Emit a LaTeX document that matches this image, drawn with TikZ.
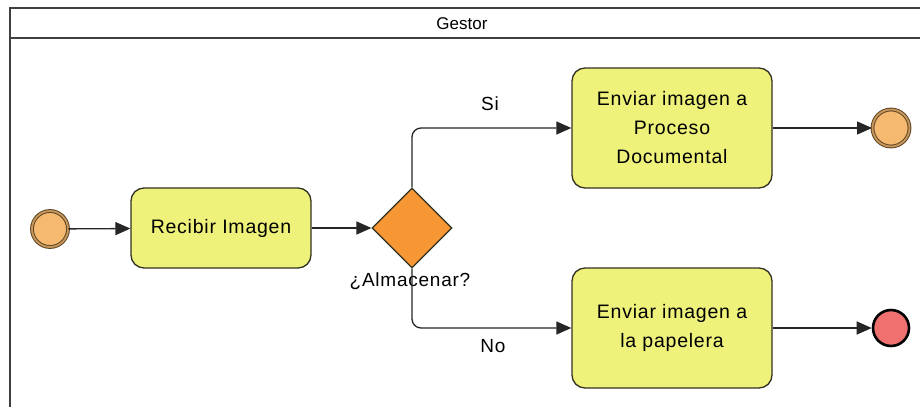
\documentclass[tikz,border=0pt]{standalone}
\usepackage{fontspec}
\setmainfont{Liberation Sans}
\newfontfamily\lblfont[LetterSpace=4]{Liberation Sans}
\usetikzlibrary{arrows.meta,shapes.geometric}
\definecolor{taskfill}{RGB}{238,242,122}
\definecolor{taskline}{RGB}{50,50,35}
\definecolor{gwfill}{RGB}{247,150,52}
\definecolor{evfill}{RGB}{245,186,112}
\definecolor{evline}{RGB}{95,70,40}
\definecolor{redfill}{RGB}{240,112,112}
\definecolor{poolline}{RGB}{64,64,64}
\begin{document}
\begin{tikzpicture}[x=1pt,y=-1pt,
  task/.style={draw=taskline,line width=1.3pt,fill=taskfill,rounded corners=13pt,
    align=center,font=\lblfont\fontsize{19.5}{29}\selectfont,inner sep=0pt},
  gateway/.style={diamond,draw=taskline,line width=1.2pt,fill=gwfill,
    minimum width=80pt,minimum height=80pt,inner sep=0pt},
  dblevent/.style={circle,draw=evline,line width=1pt,double=evfill!70!evline,
    double distance=1.8pt,fill=evfill,inner sep=0pt},
  endevent/.style={circle,draw=black,line width=2.6pt,fill=redfill,inner sep=0pt,
    minimum size=36pt},
  flow/.style={line width=1.3pt,draw=black!85,
    -{Triangle[length=15pt,width=13pt]}},
  lbl/.style={font=\lblfont\fontsize{19}{22}\selectfont,inner sep=0pt},
  pool/.style={draw=poolline,line width=1.8pt}
]
\useasboundingbox (0,0) rectangle (920,407);
\fill[white] (0,0) rectangle (920,407);
% pool
\draw[pool] (10,407) -- (10,8) -- (920,8);
\draw[pool] (10,38) -- (920,38);
\node[font=\fontsize{17}{18}\selectfont,inner sep=0pt] (pool) at (462,24) {Gestor};
% nodes
\node[dblevent,minimum size=36pt] (start) at (50,229) {};
\node[task,minimum width=180pt,minimum height=80pt] (recv) at (221,228) {Recibir Imagen};
\node[gateway] (gw) at (412,228) {};
\node[lbl] (gwl) at (410,281) {¿Almacenar?};
\node[task,minimum width=200pt,minimum height=120pt] (b1) at (672,128)
  {Enviar imagen a\\Proceso\\Documental};
\node[task,minimum width=200pt,minimum height=120pt] (b2) at (672,328)
  {Enviar imagen a\\la papelera};
\node[dblevent,minimum size=37pt] (end1) at (891,128) {};
\node[endevent] (end2) at (891,328) {};
\node[lbl] (si) at (490,104) {Si};
\node[lbl] (no) at (493,346) {No};
% flows
\draw[flow] (start) -- (recv);
\draw[flow] (recv) -- (gw.west);
\draw[flow,rounded corners=9pt] (gw.north) |- (b1.west);
\draw[flow,rounded corners=9pt] (gw.south) |- (b2.west);
\draw[flow] (b1) -- (end1);
\draw[flow] (b2) -- (end2);
\end{tikzpicture}
\end{document}
